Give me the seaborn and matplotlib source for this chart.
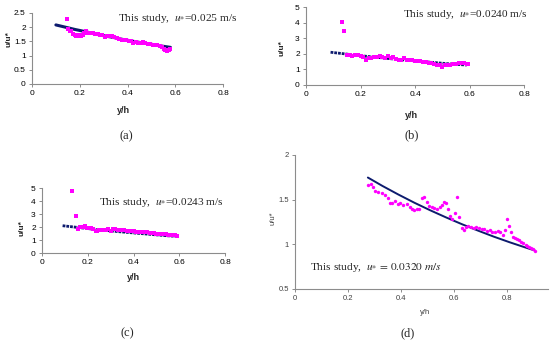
import matplotlib
matplotlib.use("Agg")
import matplotlib.pyplot as plt
import seaborn as sns
import pandas as pd

# ---- data ----
# (a) u* = 0.025 m/s
a_meas_x = [0.145, 0.152, 0.158, 0.165, 0.172, 0.178, 0.185, 0.192, 0.198, 0.205,
            0.212, 0.218, 0.225, 0.235, 0.245, 0.255, 0.265, 0.275, 0.285, 0.295,
            0.305, 0.315, 0.325, 0.335, 0.345, 0.355, 0.365, 0.375, 0.385, 0.395,
            0.405, 0.415, 0.425, 0.435, 0.445, 0.455, 0.465, 0.475, 0.485, 0.495,
            0.505, 0.515, 0.525, 0.535, 0.545, 0.552, 0.558, 0.565, 0.572, 0.578]
a_meas_y = [2.28, 1.92, 1.88, 1.85, 1.76, 1.72, 1.70, 1.68, 1.72, 1.68,
            1.72, 1.78, 1.85, 1.80, 1.79, 1.78, 1.77, 1.76, 1.74, 1.72,
            1.66, 1.70, 1.68, 1.70, 1.66, 1.62, 1.58, 1.56, 1.55, 1.54,
            1.52, 1.50, 1.45, 1.48, 1.44, 1.46, 1.48, 1.44, 1.42, 1.40,
            1.38, 1.37, 1.36, 1.35, 1.30, 1.22, 1.18, 1.17, 1.19, 1.24]
a_model_x = [0.10, 0.14, 0.18, 0.22, 0.26, 0.30, 0.34, 0.38, 0.42, 0.46, 0.50, 0.54, 0.58]
a_model_y = [2.08, 2.00, 1.92, 1.85, 1.77, 1.70, 1.64, 1.57, 1.51, 1.45, 1.40, 1.34, 1.29]

# (b) u* = 0.0240 m/s
b_meas_x = [0.131, 0.139, 0.150, 0.160, 0.170, 0.180, 0.190, 0.200, 0.210, 0.220,
            0.230, 0.240, 0.250, 0.260, 0.270, 0.280, 0.290, 0.300, 0.310, 0.320,
            0.330, 0.340, 0.350, 0.360, 0.370, 0.380, 0.390, 0.400, 0.410, 0.420,
            0.430, 0.440, 0.450, 0.460, 0.470, 0.480, 0.490, 0.500, 0.510, 0.520,
            0.530, 0.540, 0.550, 0.560, 0.570, 0.580, 0.590, 0.595]
b_meas_y = [4.07, 3.43, 1.92, 1.95, 1.85, 1.95, 1.90, 1.85, 1.80, 1.60,
            1.72, 1.75, 1.80, 1.78, 1.88, 1.80, 1.75, 1.85, 1.70, 1.82,
            1.65, 1.62, 1.60, 1.70, 1.62, 1.60, 1.58, 1.55, 1.52, 1.55,
            1.45, 1.45, 1.42, 1.40, 1.35, 1.30, 1.25, 1.15, 1.25, 1.30,
            1.28, 1.32, 1.35, 1.42, 1.40, 1.38, 1.35, 1.32]
b_model_x = [0.09, 0.13, 0.17, 0.21, 0.25, 0.29, 0.33, 0.37, 0.41, 0.45, 0.49, 0.53, 0.57, 0.59]
b_model_y = [2.10, 2.02, 1.94, 1.86, 1.79, 1.72, 1.65, 1.59, 1.53, 1.47, 1.41, 1.35, 1.30, 1.28]

# (c) u* = 0.0243 m/s
c_meas_x = [0.133, 0.147, 0.157, 0.165, 0.172, 0.180, 0.188, 0.195, 0.205, 0.215,
            0.225, 0.235, 0.242, 0.250, 0.260, 0.270, 0.280, 0.290, 0.300, 0.310,
            0.320, 0.330, 0.340, 0.350, 0.360, 0.370, 0.380, 0.390, 0.400, 0.410,
            0.420, 0.430, 0.440, 0.450, 0.460, 0.470, 0.480, 0.490, 0.500, 0.510,
            0.520, 0.530, 0.540, 0.550, 0.560, 0.570, 0.580, 0.590]
c_meas_y = [4.74, 2.82, 1.88, 2.00, 2.02, 1.98, 2.05, 1.95, 1.92, 1.90,
            1.85, 1.72, 1.70, 1.78, 1.80, 1.78, 1.80, 1.82, 1.72, 1.85,
            1.82, 1.78, 1.80, 1.75, 1.76, 1.72, 1.70, 1.70, 1.66, 1.65,
            1.63, 1.62, 1.60, 1.58, 1.58, 1.55, 1.55, 1.52, 1.50, 1.50,
            1.48, 1.46, 1.45, 1.42, 1.40, 1.38, 1.35, 1.30]
c_model_x = b_model_x
c_model_y = b_model_y

# (d) u* = 0.0320 m/s
d_meas_x = [0.277, 0.286, 0.296, 0.302, 0.314, 0.327, 0.340, 0.350, 0.358, 0.367,
            0.377, 0.387, 0.396, 0.409, 0.421, 0.434, 0.443, 0.450, 0.459, 0.468,
            0.478, 0.487, 0.497, 0.506, 0.516, 0.526, 0.536, 0.546, 0.553, 0.562,
            0.569, 0.576, 0.585, 0.594, 0.604, 0.613, 0.620, 0.629, 0.636, 0.644,
            0.654, 0.664, 0.674, 0.684, 0.694, 0.704, 0.714, 0.725, 0.735, 0.745,
            0.755, 0.765, 0.775, 0.785, 0.792, 0.800, 0.808, 0.815, 0.823, 0.830,
            0.838, 0.846, 0.854, 0.862, 0.870, 0.877, 0.884, 0.891, 0.898, 0.906]
d_meas_y = [1.664, 1.675, 1.645, 1.60, 1.58, 1.57, 1.55, 1.515, 1.46, 1.465,
            1.48, 1.45, 1.46, 1.44, 1.45, 1.42, 1.40, 1.38, 1.40, 1.40,
            1.515, 1.53, 1.47, 1.43, 1.42, 1.41, 1.40, 1.42, 1.44, 1.47,
            1.46, 1.40, 1.32, 1.28, 1.354, 1.534, 1.31, 1.18, 1.16, 1.19,
            1.205, 1.19, 1.18, 1.19, 1.18, 1.17, 1.17, 1.15, 1.16, 1.14,
            1.14, 1.15, 1.14, 1.10, 1.16, 1.28, 1.205, 1.14, 1.085, 1.075,
            1.055, 1.05, 1.03, 1.01, 0.99, 0.98, 0.965, 0.955, 0.945, 0.93]
d_model_x = [0.275, 0.33, 0.39, 0.45, 0.51, 0.57, 0.63, 0.69, 0.75, 0.81, 0.87, 0.906]
d_model_y = [1.747, 1.653, 1.557, 1.466, 1.381, 1.301, 1.225, 1.154, 1.086, 1.023, 0.964, 0.93]

x_ticks = [0, 0.2, 0.4, 0.6, 0.8]
x_ticklabels = ["0", "0.2", "0.4", "0.6", "0.8"]

MAGENTA = "#ff00ff"
NAVY = "#0d1b6e"
SPINE = "#8c8c8c"

sns.set_theme(style="ticks")
plt.rcParams["font.family"] = ["Liberation Sans", "DejaVu Sans"]
plt.rcParams["mathtext.fontset"] = "stix"

fig = plt.figure(figsize=(5.5, 3.42), dpi=100)


def style_axes(ax, ylim, yticks, yticklabels, xlim, tick_color="black", tick_size=6):
    ax.set_xlim(*xlim)
    ax.set_ylim(*ylim)
    ax.set_xticks(x_ticks)
    ax.set_xticklabels(x_ticklabels)
    ax.set_yticks(yticks)
    ax.set_yticklabels(yticklabels)
    sns.despine(ax=ax)
    for side in ("left", "bottom"):
        ax.spines[side].set_color(SPINE)
        ax.spines[side].set_linewidth(0.8)
    ax.tick_params(axis="both", direction="out", length=2.5, width=0.7, color=SPINE,
                   labelsize=tick_size, labelcolor=tick_color, pad=2)


def small_panel(rect, mx, my, lx, ly, ylim, yticks, ylab_xy, xlab_xy, note, note_xy,
                dotted=True):
    ax = fig.add_axes(rect)
    df_model = pd.DataFrame({"x": lx, "y": ly})
    df_meas = pd.DataFrame({"x": mx, "y": my})
    if dotted:
        sns.lineplot(data=df_model, x="x", y="y", ax=ax, color=NAVY, lw=2.0,
                     linestyle=(0, (1, 0.35)), sort=False)
    else:
        sns.lineplot(data=df_model, x="x", y="y", ax=ax, color=NAVY, lw=2.2, sort=False)
    sns.scatterplot(data=df_meas, x="x", y="y", ax=ax, color=MAGENTA, marker="s",
                    s=5, linewidth=0, zorder=3)
    style_axes(ax, ylim, yticks, [f"{t:g}" for t in yticks], (0, 0.8))
    ax.set_xlabel("y/h", fontsize=6.5, fontweight="bold")
    ax.set_ylabel("u/u*", fontsize=6, fontweight="bold")
    ax.xaxis.set_label_coords(*xlab_xy)
    ax.yaxis.set_label_coords(*ylab_xy)
    ax.text(note_xy[0], note_xy[1], note, fontsize=8.2, family="Liberation Serif",
            va="center", ha="left")
    return ax


# (a)
small_panel([0.0582, 0.7544, 0.3473, 0.2076], a_meas_x, a_meas_y, a_model_x, a_model_y,
            (0, 2.5), [0, 0.5, 1, 1.5, 2, 2.5], (-0.10, 0.63), (0.48, -0.31),
            "This study,  $u_{*}$=0.025 m/s", (0.36, 2.29), dotted=False)
# (b)
small_panel([0.5564, 0.7515, 0.3964, 0.228], b_meas_x, b_meas_y, b_model_x, b_model_y,
            (0, 5), [0, 1, 2, 3, 4, 5], (-0.092, 0.47), (0.485, -0.333),
            "This study,  $u_{*}$=0.0240 m/s", (0.356, 4.49))
# (c)
small_panel([0.0764, 0.2602, 0.3327, 0.190], c_meas_x, c_meas_y, c_model_x, c_model_y,
            (0, 5), [0, 1, 2, 3, 4, 5], (-0.093, 0.38), (0.499, -0.315),
            "This study,  $u_{*}$=0.0243 m/s", (0.249, 3.85))

# (d)
ax_d = fig.add_axes([0.5364, 0.155, 0.46, 0.392])
sns.lineplot(x=d_model_x, y=d_model_y, ax=ax_d, color=NAVY, lw=1.4, sort=False)
sns.scatterplot(x=d_meas_x, y=d_meas_y, ax=ax_d, color=MAGENTA, marker="o", s=6,
                linewidth=0, zorder=3)
style_axes(ax_d, (0.5, 2), [0.5, 1, 1.5, 2], ["0.5", "1", "1.5", "2"], (0, 0.955),
           tick_color="#404040", tick_size=5.5)
ax_d.set_xlabel("y/h", fontsize=5.5, color="#404040")
ax_d.set_ylabel("u/u*", fontsize=5.5, color="#404040")
ax_d.xaxis.set_label_coords(0.514, -0.149)
ax_d.yaxis.set_label_coords(-0.075, 0.53)
ax_d.text(0.057, 0.735, "This study,  $u_{*}\\,=\\,0.0320\\ m/s$", fontsize=8.2,
          family="Liberation Serif", va="center", ha="left")

# panel letters
for label, (px, py) in {"(a)": (126, 136), "(b)": (412, 135),
                        "(c)": (127, 333), "(d)": (408, 333)}.items():
    fig.text(px / 550, 1 - py / 342, label, fontsize=9, family="Liberation Serif",
             ha="center", va="center")

fig.savefig("out.png", dpi=100)
